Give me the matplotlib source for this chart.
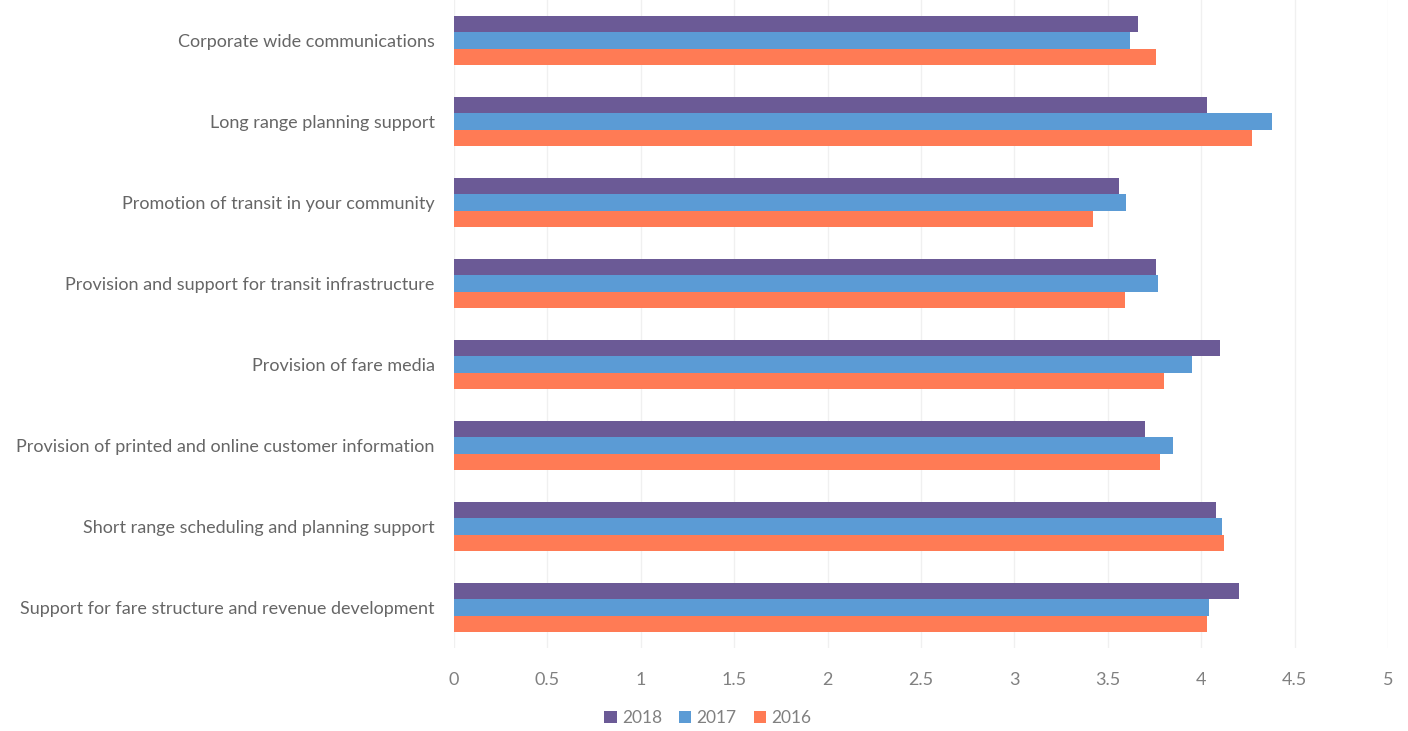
import matplotlib
matplotlib.use("Agg")
import matplotlib.pyplot as plt
import numpy as np

categories = [
    "Corporate wide communications",
    "Long range planning support",
    "Promotion of transit in your community",
    "Provision and support for transit infrastructure",
    "Provision of fare media",
    "Provision of printed and online customer information",
    "Short range scheduling and planning support",
    "Support for fare structure and revenue development",
]
series_names = ["2018", "2017", "2016"]
values_2018 = [3.66, 4.03, 3.56, 3.76, 4.10, 3.70, 4.08, 4.20]
values_2017 = [3.62, 4.38, 3.60, 3.77, 3.95, 3.85, 4.11, 4.04]
values_2016 = [3.76, 4.27, 3.42, 3.59, 3.80, 3.78, 4.12, 4.03]
x_ticks = [0, 0.5, 1, 1.5, 2, 2.5, 3, 3.5, 4, 4.5, 5]
x_tick_labels = ["0", "0.5", "1", "1.5", "2", "2.5", "3", "3.5", "4", "4.5", "5"]

colors = ["#6b5a96", "#5b9bd5", "#ff7b55"]
text_color = "#666666"

plt.rcParams["font.family"] = ["Lato", "DejaVu Sans"]

fig = plt.figure(figsize=(14.08, 7.31), dpi=100)
ax = fig.add_axes([454 / 1408, 1 - 648 / 731, (1388 - 454) / 1408, 648 / 731])

y = np.arange(len(categories))
h = 0.205
for k, (name, vals) in enumerate(zip(series_names, [values_2018, values_2017, values_2016])):
    ax.barh(y + (k - 1) * h, vals, height=h, color=colors[k], label=name, zorder=2)

ax.set_xlim(0, 5)
ax.set_ylim(len(categories) - 0.5, -0.5)
ax.set_xticks(x_ticks)
ax.set_xticklabels(x_tick_labels)
ax.set_yticks(y)
ax.set_yticklabels(categories)
ax.tick_params(axis="both", length=0, colors=text_color, labelsize=13)
ax.tick_params(axis="x", pad=17, colors="#808080")
ax.tick_params(axis="y", pad=14)
ax.grid(axis="x", color="#f0f0f0", linewidth=1, zorder=0)
for s in ax.spines.values():
    s.set_visible(False)

leg = fig.legend(loc="center", bbox_to_anchor=(708 / 1408, 1 - 718 / 731), ncol=3,
                 frameon=False, fontsize=12.5, handlelength=0.7, handleheight=0.7,
                 handletextpad=0.3, columnspacing=1.0)
for t in leg.get_texts():
    t.set_color("#808080")

fig.savefig("out.png", dpi=100, facecolor="white")
